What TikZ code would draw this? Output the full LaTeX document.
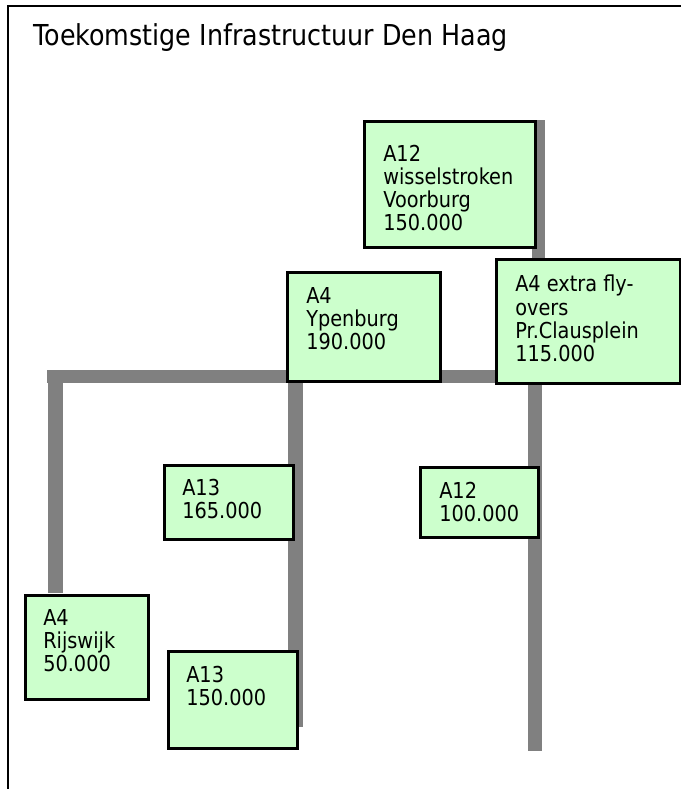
\documentclass[tikz,border=0pt]{standalone}
\usepackage{fontspec}
\setmainfont{DejaVu Sans}[FakeStretch=0.88]
\usepackage{xcolor}
\definecolor{roadgray}{RGB}{128,128,128}
\definecolor{boxgreen}{RGB}{204,255,204}

\begin{document}
\begin{tikzpicture}[x=0.025cm, y=-0.025cm,
    frame/.style={line width=1.6pt},
    road/.style={fill=roadgray},
    infobox/.style={draw, line width=1.8pt, fill=boxgreen, anchor=north west, inner sep=0pt},
    infotext/.style={anchor=north west, inner sep=0pt, align=left, font=\fontsize{15.6}{16.4}\selectfont}]

\useasboundingbox (0,0) rectangle (681,789);

% kader en titel
\draw[frame] (681,6) -- (8,6) -- (8,789);
\node[anchor=base west, inner sep=0pt, font=\fontsize{20.5}{24}\selectfont] (title) at (33,45) {Toekomstige Infrastructuur Den Haag};

% wegen
\fill[road] (47,370) rectangle (625,383);
\fill[road] (48,376) rectangle (63,593);
\fill[road] (288,376) rectangle (303,727);
\fill[road] (532,120) rectangle (545,376);
\fill[road] (528,376) rectangle (542,751);

% projecten
\node[infobox, minimum width=171*0.711pt, minimum height=126*0.711pt] (voorburg) at (363,120) {};
\node[infotext] (voorburgtxt) at (383,145) {A12\\wisselstroken\\Voorburg\\150.000};

\node[infobox, minimum width=153*0.711pt, minimum height=109*0.711pt] (ypenburg) at (286,271) {};
\node[infotext] (ypenburgtxt) at (306,287) {A4\\Ypenburg\\190.000};

\node[infobox, minimum width=184*0.711pt, minimum height=124*0.711pt] (clausplein) at (495,258) {};
\node[infotext] (clauspleintxt) at (515,275) {A4 extra fly-\\overs\\Pr.Clausplein\\115.000};

\node[infobox, minimum width=129*0.711pt, minimum height=74*0.711pt] (anorth) at (163,464) {};
\node[infotext] (anorthtxt) at (182,479) {A13\\165.000};

\node[infobox, minimum width=118*0.711pt, minimum height=70*0.711pt] (azuid) at (419,466) {};
\node[infotext] (azuidtxt) at (439,482) {A12\\100.000};

\node[infobox, minimum width=123*0.711pt, minimum height=104*0.711pt] (rijswijk) at (24,594) {};
\node[infotext] (rijswijktxt) at (43,609) {A4\\Rijswijk\\50.000};

\node[infobox, minimum width=129*0.711pt, minimum height=97*0.711pt] (asouth) at (167,650) {};
\node[infotext] (asouthtxt) at (186,666) {A13\\150.000};

\end{tikzpicture}
\end{document}
